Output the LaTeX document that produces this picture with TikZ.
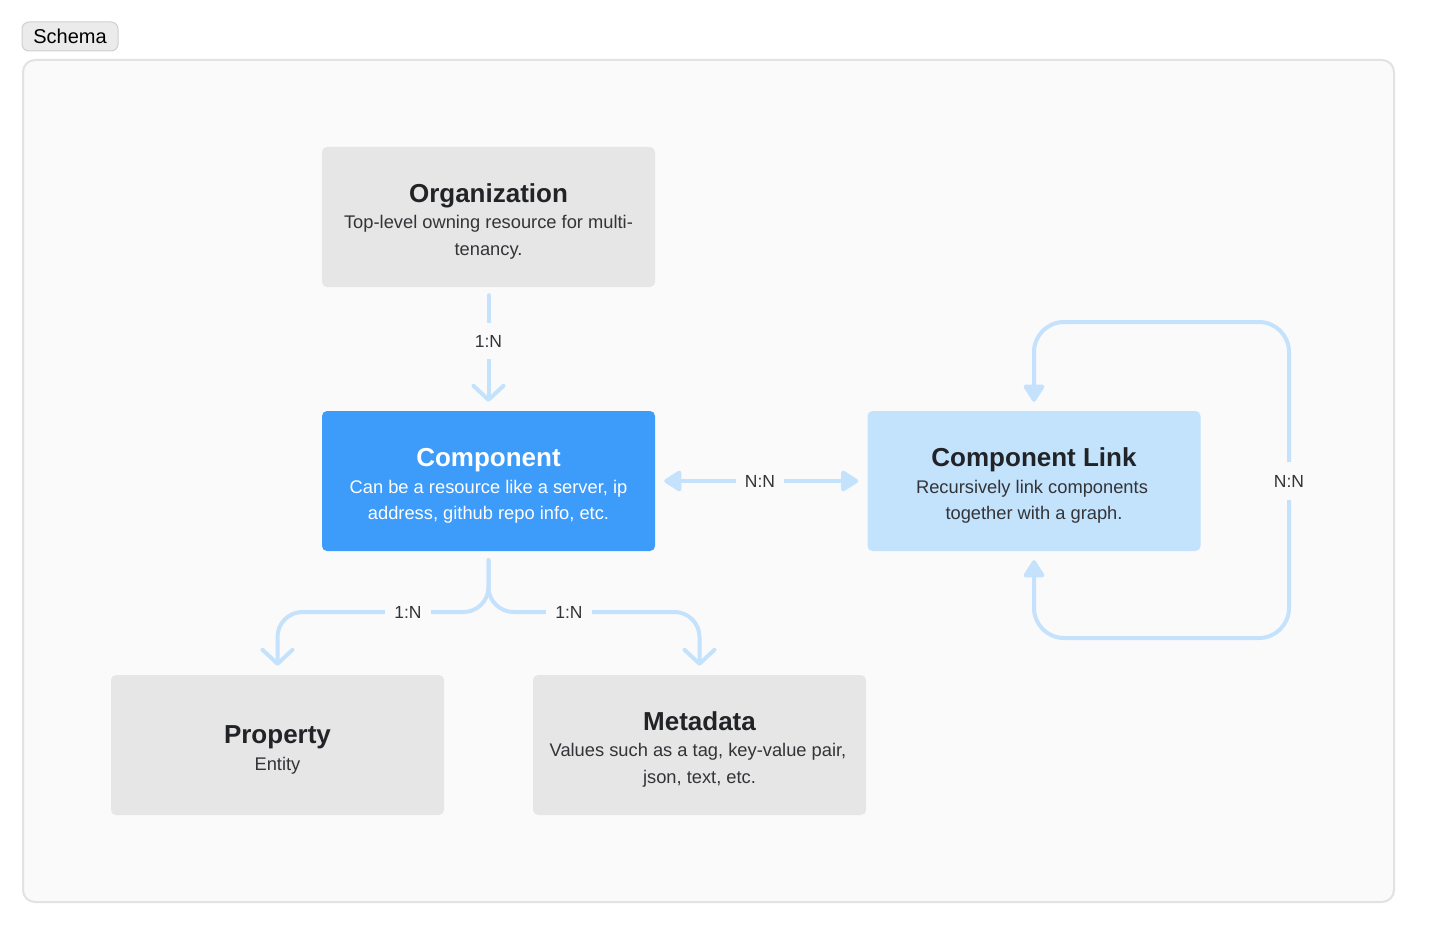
\documentclass[tikz,border=0pt]{standalone}
\usepackage{fontspec}
\setmainfont{Liberation Sans}
\usetikzlibrary{arrows.meta}
\definecolor{bgc}{HTML}{FAFAFA}
\definecolor{framec}{HTML}{E2E2E2}
\definecolor{tagc}{HTML}{EBEBEB}
\definecolor{tagb}{HTML}{CFCFCF}
\definecolor{grayb}{HTML}{E6E6E6}
\definecolor{blueb}{HTML}{3D9BFA}
\definecolor{lightb}{HTML}{C3E2FC}
\definecolor{linec}{HTML}{C5E2FD}
\definecolor{titlec}{HTML}{222326}
\definecolor{descc}{HTML}{333438}
\begin{document}
\begin{tikzpicture}[x=1pt,y=-1pt,
  box/.style={rounded corners=5pt, minimum width=333pt, minimum height=140pt, inner sep=0pt},
  ttl/.style={anchor=base, inner sep=0pt, font=\fontsize{26}{30}\selectfont\bfseries, text=titlec},
  dsc/.style={anchor=base, inner sep=0pt, font=\fontsize{18.3}{22}\selectfont, text=descc},
  lbl/.style={fill=bgc, inner xsep=9pt, inner ysep=12pt, font=\fontsize{17.5}{20}\selectfont, text=descc},
  conn/.style={draw=linec, line width=4pt, line cap=round, line join=round},
  opentip/.style={-{Straight Barb[length=14pt,width=30pt,round]}},
  filltips/.style={{Triangle[length=19pt,width=23pt,round]}-{Triangle[length=19pt,width=23pt,round]}}
]
\useasboundingbox (0,0) rectangle (1438,931);
\fill[white] (0,0) rectangle (1438,931);

% frame and tag
\draw[fill=bgc, draw=framec, line width=2pt, rounded corners=12pt] (23,60) rectangle (1394,902);
\node[fill=tagc, draw=tagb, line width=1pt, rounded corners=7pt, minimum width=96pt, minimum height=29pt, inner sep=0pt, font=\fontsize{20}{24}\selectfont, text=black] (schema) at (70,36.5) {Schema};

% boxes
\node[box, fill=grayb] (org) at (488.5,217) {};
\node[box, fill=blueb] (comp) at (488.5,481) {};
\node[box, fill=lightb] (link) at (1034,481) {};
\node[box, fill=grayb] (prop) at (277.5,745) {};
\node[box, fill=grayb] (meta) at (699.5,745) {};

% texts
\node[ttl] (org-t) at (488.5,202) {Organization};
\node[dsc] (org-d1) at (488.5,228) {Top-level owning resource for multi-};
\node[dsc] (org-d2) at (488.5,255) {tenancy.};

\node[ttl, text=white] (comp-t) at (488.5,466) {Component};
\node[dsc, text=white] (comp-d1) at (488.5,493) {Can be a resource like a server, ip};
\node[dsc, text=white] (comp-d2) at (488.5,519) {address, github repo info, etc.};

\node[ttl] (link-t) at (1034,466) {Component Link};
\node[dsc] (link-d1) at (1032,493) {Recursively link components};
\node[dsc] (link-d2) at (1034,519) {together with a graph.};

\node[ttl] (prop-t) at (277.5,743) {Property};
\node[dsc] (prop-d1) at (277.5,770) {Entity};

\node[ttl] (meta-t) at (699.5,730) {Metadata};
\node[dsc] (meta-d1) at (698,756) {Values such as a tag, key-value pair,};
\node[dsc] (meta-d2) at (699.5,783) {json, text, etc.};

% coordinates
\coordinate (jL) at (277.5,612);
\coordinate (jR) at (699.5,612);
\coordinate (loopBR) at (1289,638);
\coordinate (loopTR) at (1289,322);

% connectors
\draw[conn, opentip] ([yshift=-8pt]org.south) -- ([yshift=9pt]comp.north);
\draw[conn, filltips] ([xshift=9pt]comp.east) -- ([xshift=-9pt]link.west);
\draw[conn, opentip, rounded corners=25pt] ([yshift=-9pt]comp.south) |- (jL) -- ([yshift=9pt]prop.north);
\draw[conn, opentip, rounded corners=25pt] ([yshift=-9pt]comp.south) |- (jR) -- ([yshift=9pt]meta.north);
\draw[conn, filltips, rounded corners=30pt] ([yshift=-9pt]link.south) |- (loopBR) -- (loopTR) -| ([yshift=9pt]link.north);

% labels
\node[lbl] (l1) at (488.5,341) {1:N};
\node[lbl, inner ysep=4pt] (l2) at (760,481) {N:N};
\node[lbl, inner ysep=4pt] (l3) at (408,612) {1:N};
\node[lbl, inner ysep=4pt] (l4) at (569,612) {1:N};
\node[lbl, inner xsep=4pt, inner ysep=13pt] (l5) at (1289,481) {N:N};
\end{tikzpicture}
\end{document}
